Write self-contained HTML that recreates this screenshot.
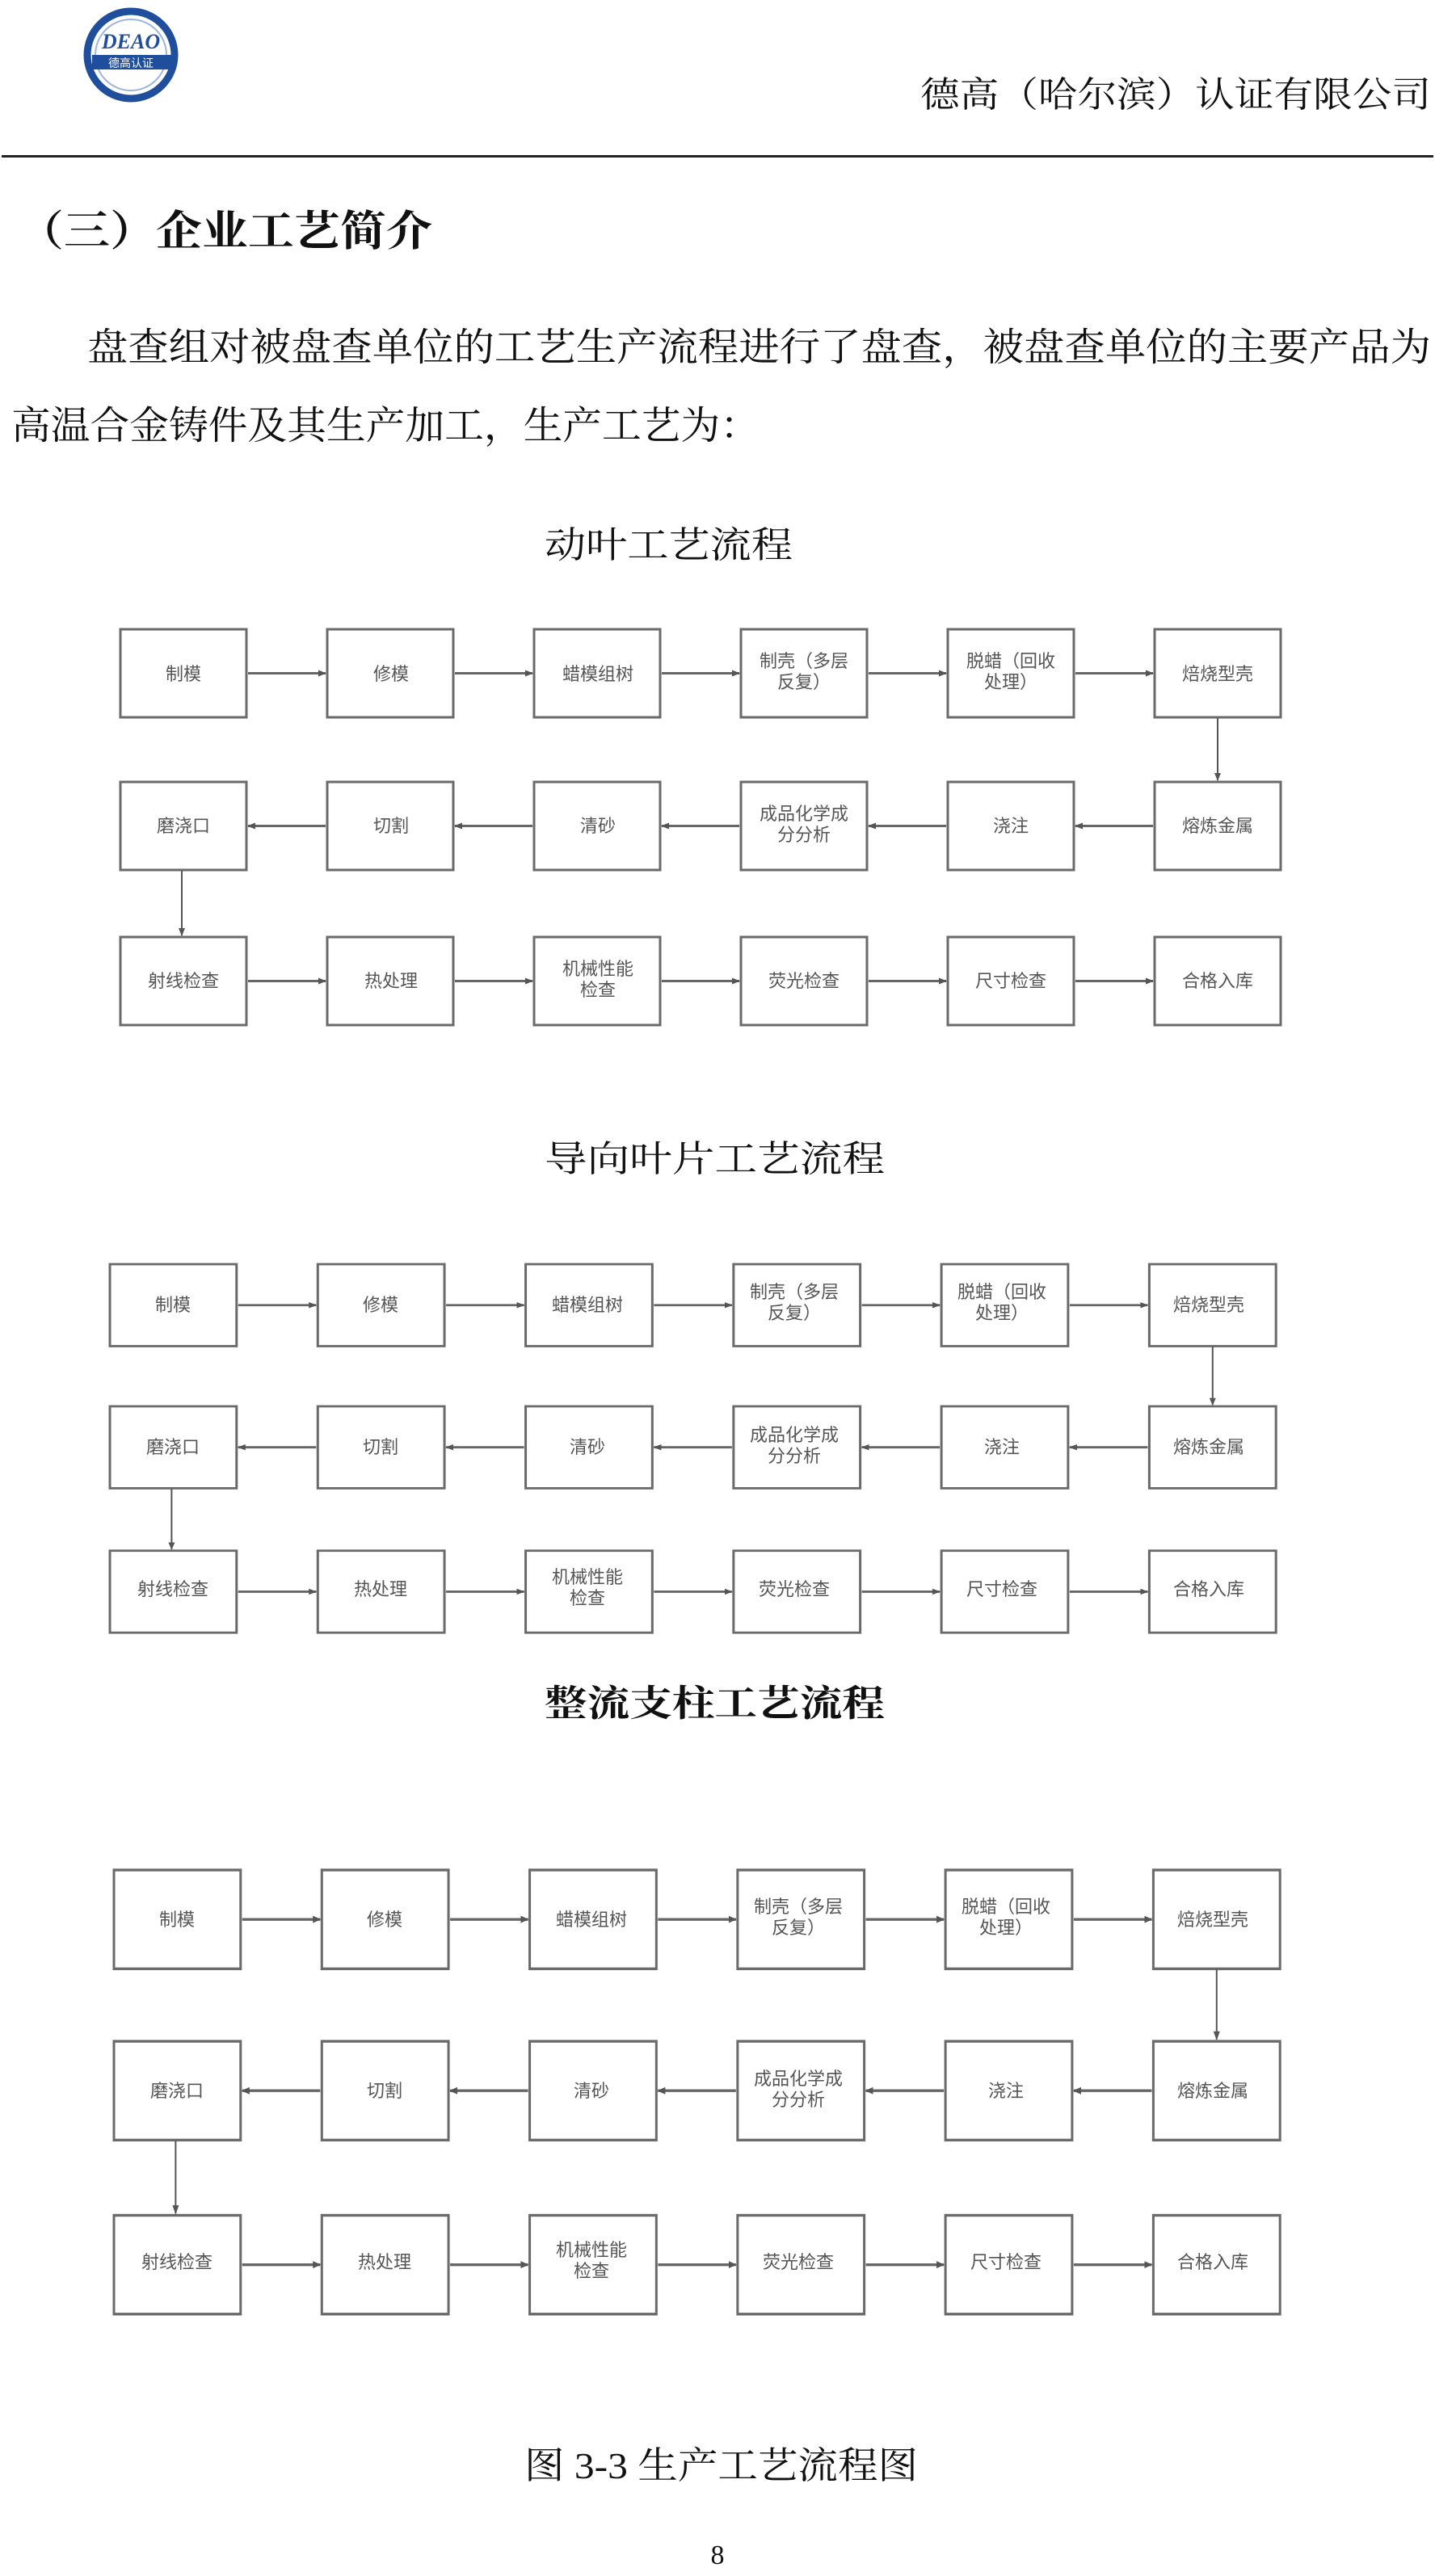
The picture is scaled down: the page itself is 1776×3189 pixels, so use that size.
<!DOCTYPE html>
<html><head><meta charset="utf-8"><style>
html,body{margin:0;padding:0;background:#fff}
svg{display:block}
.t{font-family:"Liberation Serif","Noto Serif CJK SC","Noto Sans CJK SC",serif;fill:#111}
.b{font-family:"Liberation Sans","Noto Sans CJK SC",sans-serif;font-size:22px;fill:#555;text-anchor:middle}
.bx{fill:#fff;stroke:#6a6a6a;stroke-width:3}
.ar{stroke:#666;stroke-width:3;fill:none}
.av{stroke:#555;stroke-width:2;fill:none}
</style></head><body>
<svg width="1776" height="3189" viewBox="0 0 1776 3189" xmlns="http://www.w3.org/2000/svg">
<defs>
<marker id="m" markerWidth="10" markerHeight="10" refX="9" refY="5" orient="auto" markerUnits="userSpaceOnUse">
<path d="M0,1 L10,5 L0,9 Z" fill="#555"/></marker>
<g id="dg">
<rect class="bx" x="0" y="0" width="156" height="109"/>
<rect class="bx" x="256" y="0" width="156" height="109"/>
<rect class="bx" x="512" y="0" width="156" height="109"/>
<rect class="bx" x="768" y="0" width="156" height="109"/>
<rect class="bx" x="1024" y="0" width="156" height="109"/>
<rect class="bx" x="1280" y="0" width="156" height="109"/>
<rect class="bx" x="0" y="189" width="156" height="109"/>
<rect class="bx" x="256" y="189" width="156" height="109"/>
<rect class="bx" x="512" y="189" width="156" height="109"/>
<rect class="bx" x="768" y="189" width="156" height="109"/>
<rect class="bx" x="1024" y="189" width="156" height="109"/>
<rect class="bx" x="1280" y="189" width="156" height="109"/>
<rect class="bx" x="0" y="381" width="156" height="109"/>
<rect class="bx" x="256" y="381" width="156" height="109"/>
<rect class="bx" x="512" y="381" width="156" height="109"/>
<rect class="bx" x="768" y="381" width="156" height="109"/>
<rect class="bx" x="1024" y="381" width="156" height="109"/>
<rect class="bx" x="1280" y="381" width="156" height="109"/>
<path class="ar" marker-end="url(#m)" d="M158,54.5H254"/>
<path class="ar" marker-end="url(#m)" d="M414,54.5H510"/>
<path class="ar" marker-end="url(#m)" d="M670,54.5H766"/>
<path class="ar" marker-end="url(#m)" d="M926,54.5H1022"/>
<path class="ar" marker-end="url(#m)" d="M1182,54.5H1278"/>
<path class="ar" marker-end="url(#m)" d="M1022,243.5H926"/>
<path class="ar" marker-end="url(#m)" d="M766,243.5H670"/>
<path class="ar" marker-end="url(#m)" d="M510,243.5H414"/>
<path class="ar" marker-end="url(#m)" d="M254,243.5H158"/>
<path class="ar" marker-end="url(#m)" d="M1278,243.5H1182"/>
<path class="ar" marker-end="url(#m)" d="M158,435.5H254"/>
<path class="ar" marker-end="url(#m)" d="M414,435.5H510"/>
<path class="ar" marker-end="url(#m)" d="M670,435.5H766"/>
<path class="ar" marker-end="url(#m)" d="M926,435.5H1022"/>
<path class="ar" marker-end="url(#m)" d="M1182,435.5H1278"/>
<path class="av" marker-end="url(#m)" d="M1358,110V187"/>
<path class="av" marker-end="url(#m)" d="M76,299V379"/>
</g>
</defs>

<circle cx="162" cy="68" r="54" fill="#fff" stroke="#1f4e9c" stroke-width="9"/>
<circle cx="162" cy="68" r="44" fill="none" stroke="#9fb6d8" stroke-width="2"/>
<text x="162" y="60" text-anchor="middle" font-family="Liberation Serif,serif" font-style="italic" font-weight="bold" font-size="26" fill="#1f4e9c">DEAO</text>
<rect x="114" y="68" width="98" height="18" fill="#1f4e9c"/>
<text x="162" y="83" text-anchor="middle" font-family="Noto Sans CJK SC,sans-serif" font-size="14" fill="#fff">德高认证</text>
<text class="t" x="1139" y="132" font-size="44" fill="#333" textLength="632" lengthAdjust="spacingAndGlyphs">德高（哈尔滨）认证有限公司</text>
<rect x="2" y="192" width="1772" height="3" fill="#222"/>

<text class="t" x="22" y="304" font-size="52" font-weight="bold" textLength="513" lengthAdjust="spacingAndGlyphs">（三）企业工艺简介</text>
<text class="t" x="108" y="446" font-size="48" textLength="1663" lengthAdjust="spacingAndGlyphs">盘查组对被盘查单位的工艺生产流程进行了盘查，被盘查单位的主要产品为</text>
<text class="t" x="14" y="543" font-size="48" textLength="926" lengthAdjust="spacingAndGlyphs">高温合金铸件及其生产加工，生产工艺为：</text>

<text class="t" x="674" y="690" font-size="45" textLength="307" lengthAdjust="spacingAndGlyphs">动叶工艺流程</text>
<text class="t" x="674" y="1450" font-size="45" textLength="421" lengthAdjust="spacingAndGlyphs">导向叶片工艺流程</text>
<text class="t" x="674" y="2124" font-size="45" font-weight="bold" textLength="421" lengthAdjust="spacingAndGlyphs">整流支柱工艺流程</text>

<g transform="translate(149,779)"><use href="#dg"/></g>
<text class="b" x="227" y="842">制模</text><text class="b" x="484" y="842">修模</text><text class="b" x="740" y="842">蜡模组树</text>
<text class="b" x="995" y="826">制壳（多层</text><text class="b" x="995" y="852">反复）</text>
<text class="b" x="1251" y="826">脱蜡（回收</text><text class="b" x="1251" y="852">处理）</text>
<text class="b" x="1507" y="842">焙烧型壳</text>
<text class="b" x="227" y="1030">磨浇口</text><text class="b" x="484" y="1030">切割</text><text class="b" x="740" y="1030">清砂</text>
<text class="b" x="995" y="1015">成品化学成</text><text class="b" x="995" y="1041">分分析</text>
<text class="b" x="1251" y="1030">浇注</text><text class="b" x="1507" y="1030">熔炼金属</text>
<text class="b" x="227" y="1222">射线检查</text><text class="b" x="484" y="1222">热处理</text>
<text class="b" x="740" y="1207">机械性能</text><text class="b" x="740" y="1233">检查</text>
<text class="b" x="995" y="1222">荧光检查</text><text class="b" x="1251" y="1222">尺寸检查</text><text class="b" x="1507" y="1222">合格入库</text>

<g transform="translate(136,1565) scale(1.005,0.931)"><use href="#dg"/></g>
<text class="b" x="214" y="1623">制模</text><text class="b" x="471" y="1623">修模</text><text class="b" x="727" y="1623">蜡模组树</text>
<text class="b" x="983" y="1607">制壳（多层</text><text class="b" x="983" y="1633">反复）</text>
<text class="b" x="1240" y="1607">脱蜡（回收</text><text class="b" x="1240" y="1633">处理）</text>
<text class="b" x="1496" y="1623">焙烧型壳</text>
<text class="b" x="214" y="1799">磨浇口</text><text class="b" x="471" y="1799">切割</text><text class="b" x="727" y="1799">清砂</text>
<text class="b" x="983" y="1784">成品化学成</text><text class="b" x="983" y="1810">分分析</text>
<text class="b" x="1240" y="1799">浇注</text><text class="b" x="1496" y="1799">熔炼金属</text>
<text class="b" x="214" y="1975">射线检查</text><text class="b" x="471" y="1975">热处理</text>
<text class="b" x="727" y="1960">机械性能</text><text class="b" x="727" y="1986">检查</text>
<text class="b" x="983" y="1975">荧光检查</text><text class="b" x="1240" y="1975">尺寸检查</text><text class="b" x="1496" y="1975">合格入库</text>

<g transform="translate(141,2315) scale(1.005,1.122)"><use href="#dg"/></g>
<text class="b" x="219" y="2384">制模</text><text class="b" x="476" y="2384">修模</text><text class="b" x="732" y="2384">蜡模组树</text>
<text class="b" x="988" y="2368">制壳（多层</text><text class="b" x="988" y="2394">反复）</text>
<text class="b" x="1245" y="2368">脱蜡（回收</text><text class="b" x="1245" y="2394">处理）</text>
<text class="b" x="1501" y="2384">焙烧型壳</text>
<text class="b" x="219" y="2596">磨浇口</text><text class="b" x="476" y="2596">切割</text><text class="b" x="732" y="2596">清砂</text>
<text class="b" x="988" y="2581">成品化学成</text><text class="b" x="988" y="2607">分分析</text>
<text class="b" x="1245" y="2596">浇注</text><text class="b" x="1501" y="2596">熔炼金属</text>
<text class="b" x="219" y="2808">射线检查</text><text class="b" x="476" y="2808">热处理</text>
<text class="b" x="732" y="2793">机械性能</text><text class="b" x="732" y="2819">检查</text>
<text class="b" x="988" y="2808">荧光检查</text><text class="b" x="1245" y="2808">尺寸检查</text><text class="b" x="1501" y="2808">合格入库</text>

<text class="t" x="649" y="3068" font-size="46" textLength="487" lengthAdjust="spacingAndGlyphs">图 3-3 生产工艺流程图</text>
<text class="t" x="888" y="3174" font-size="34" text-anchor="middle">8</text>
</svg>
</body></html>
